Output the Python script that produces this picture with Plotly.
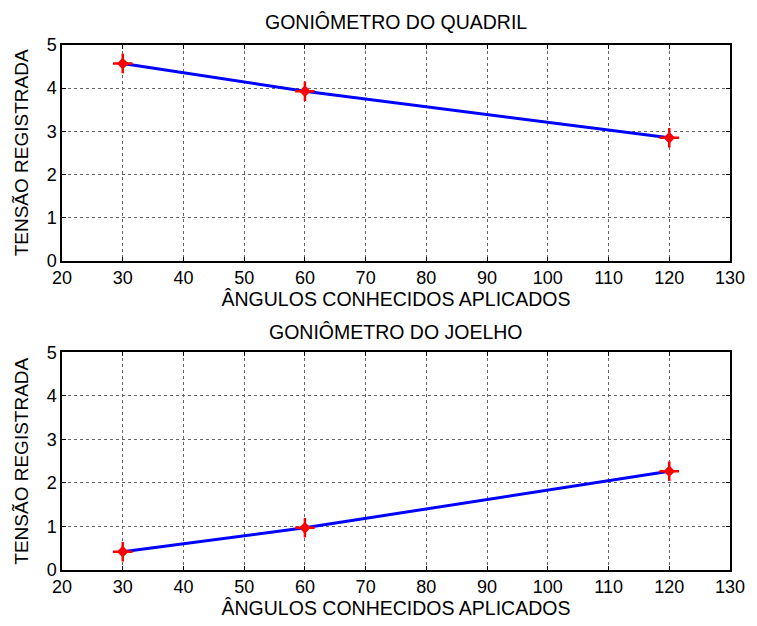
import plotly.graph_objects as go

angles = [30, 60, 120]
quadril = [4.57, 3.93, 2.85]
joelho = [0.42, 0.97, 2.27]

x_ticks = [20, 30, 40, 50, 60, 70, 80, 90, 100, 110, 120, 130]
y_ticks = [0, 1, 2, 3, 4, 5]

fig = go.Figure()

font = dict(family="Liberation Sans, Arial, sans-serif", color="black")

for i, vals in enumerate([quadril, joelho]):
    xa = "x" if i == 0 else "x2"
    ya = "y" if i == 0 else "y2"
    fig.add_trace(go.Scatter(x=angles, y=vals, mode="lines", line=dict(color="#0000ff", width=3),
                             xaxis=xa, yaxis=ya, showlegend=False))
    fig.add_trace(go.Scatter(x=angles, y=vals, mode="markers",
                             marker=dict(symbol="diamond", size=9, color="#ff0000",
                                         line=dict(color="#ff0000", width=0)),
                             xaxis=xa, yaxis=ya, showlegend=False))
    fig.add_trace(go.Scatter(x=angles, y=vals, mode="markers",
                             marker=dict(symbol="cross-thin-open", size=14, color="#ff0000",
                                         line=dict(color="#ff0000", width=2.5)),
                             xaxis=xa, yaxis=ya, showlegend=False))

axis_common = dict(showline=True, mirror="ticks", linecolor="black", linewidth=1.5,
                   ticks="inside", ticklen=4, tickcolor="black", tickwidth=1,
                   showgrid=True, gridcolor="#666666", griddash="dot", gridwidth=1,
                   zeroline=False, tickfont=dict(size=18, **font), ticklabeloverflow="allow")

xcommon = dict(axis_common, range=[20, 130], tickvals=x_ticks,
               title=dict(text="ÂNGULOS CONHECIDOS APLICADOS", font=dict(size=19.5, **font), standoff=3))
ycommon = dict(axis_common, range=[0, 5], tickvals=y_ticks,
               title=dict(text="TENSÃO REGISTRADA", font=dict(size=19, **font), standoff=13))

fig.update_layout(
    width=749, height=618,
    margin=dict(l=51, r=17, t=37, b=55),
    paper_bgcolor="white", plot_bgcolor="white",
    xaxis=dict(xcommon, domain=[0, 1], anchor="y"),
    yaxis=dict(ycommon, domain=[0.589, 1], anchor="x"),
    xaxis2=dict(xcommon, domain=[0, 1], anchor="y2"),
    yaxis2=dict(ycommon, domain=[0, 0.4144], anchor="x2"),
    annotations=[
        dict(text="GONIÔMETRO DO QUADRIL", x=0.5, y=1, xref="paper", yref="paper",
             yanchor="middle", yshift=23, showarrow=False, font=dict(size=19.5, **font)),
        dict(text="GONIÔMETRO DO JOELHO", x=0.5, y=0.4144, xref="paper", yref="paper",
             yanchor="middle", yshift=20, showarrow=False, font=dict(size=19.5, **font)),
    ],
)

fig.write_html("out.html")
